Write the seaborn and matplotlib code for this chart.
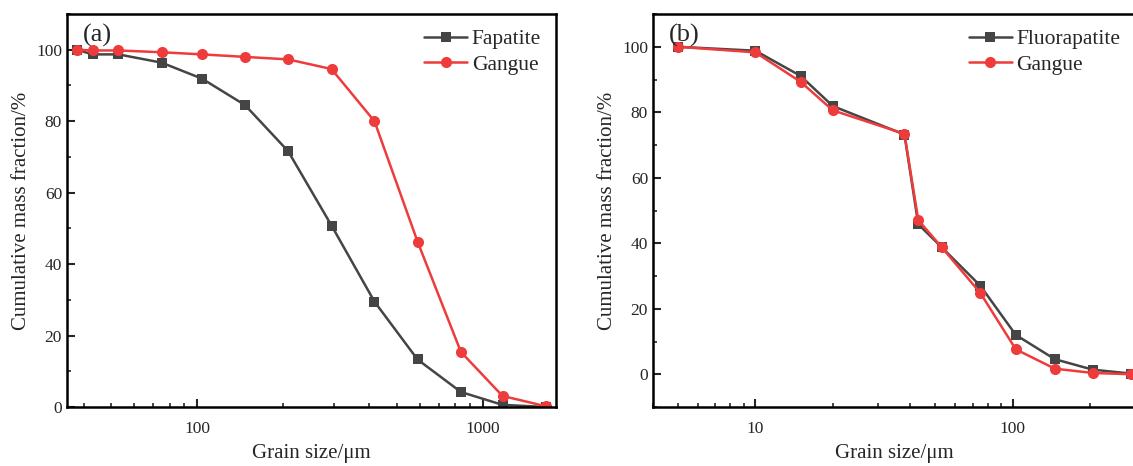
import pandas as pd
import seaborn as sns
import matplotlib.pyplot as plt
from matplotlib.ticker import FixedLocator, FixedFormatter, LogLocator, NullFormatter, MultipleLocator

# panel (a) data
size_a = [38, 43, 53, 75, 104, 147, 208, 295, 417, 590, 837, 1170, 1660]
fapatite = [100, 98.7, 98.7, 96.4, 91.9, 84.5, 71.6, 50.8, 29.5, 13.3, 4.2, 0.6, 0]
gangue_a = [100, 99.8, 99.8, 99.3, 98.7, 98.0, 97.3, 94.6, 80.0, 46.3, 15.4, 3.1, 0.2]

# panel (b) data
size_b = [5, 10, 15, 20, 38, 43, 53, 75, 103, 146, 205, 290]
fluorapatite = [100, 98.8, 91.1, 81.9, 73.2, 45.8, 38.8, 27.0, 12.0, 4.6, 1.4, 0.2]
gangue_b = [100, 98.3, 89.3, 80.6, 73.4, 47.1, 38.8, 24.8, 7.6, 1.7, 0.4, 0.0]

grey = '#454545'
red = '#ee3b3b'

sns.set_style("ticks")
plt.rcParams['font.family'] = ['Liberation Serif', 'DejaVu Serif']

fig = plt.figure(figsize=(11.33, 4.66), dpi=100)
ax_a = fig.add_axes([0.0591, 0.1266, 0.4316, 0.8433])
ax_b = fig.add_axes([0.5763, 0.1266, 0.4257, 0.8433])

panels = [
    (ax_a, size_a, fapatite, gangue_a, 'Fapatite', '(a)', (35, 1800), (0, 110), [100, 1000]),
    (ax_b, size_b, fluorapatite, gangue_b, 'Fluorapatite', '(b)', (4, 300), (-10, 110), [10, 100]),
]

for ax, sizes, mineral, gangue, name, tag, xlim, ylim, xt in panels:
    df1 = pd.DataFrame({'size': sizes, 'frac': mineral})
    df2 = pd.DataFrame({'size': sizes, 'frac': gangue})
    sns.lineplot(data=df1, x='size', y='frac', ax=ax, color=grey, marker='s',
                 markersize=7, markeredgewidth=0, linewidth=1.8, label=name)
    sns.lineplot(data=df2, x='size', y='frac', ax=ax, color=red, marker='o',
                 markersize=8, markeredgewidth=0, linewidth=1.8, label='Gangue')
    ax.set_xscale('log')
    ax.set_xlim(*xlim)
    ax.set_ylim(*ylim)
    ax.xaxis.set_major_locator(FixedLocator(xt))
    ax.xaxis.set_major_formatter(FixedFormatter([str(v) for v in xt]))
    ax.xaxis.set_minor_locator(LogLocator(base=10, subs=range(2, 10)))
    ax.xaxis.set_minor_formatter(NullFormatter())
    ax.yaxis.set_major_locator(MultipleLocator(20))
    ax.yaxis.set_minor_locator(MultipleLocator(10))
    ax.tick_params(which='major', direction='in', length=6, width=1.5, labelsize=12.5)
    ax.tick_params(axis='x', which='major', pad=10)
    ax.tick_params(which='minor', direction='in', length=3, width=1.2)
    for sp in ax.spines.values():
        sp.set_linewidth(1.8)
        sp.set_color('black')
    ax.set_xlabel('Grain size/μm', fontsize=15, labelpad=5)
    ax.set_ylabel('Cumulative mass fraction/%', fontsize=15, labelpad=4)
    ax.text(0.033, 0.975, tag, transform=ax.transAxes, fontsize=19, va='top', ha='left')
    ax.legend(loc='upper right', frameon=False, fontsize=15.5, handlelength=2.0,
              handletextpad=0.2, labelspacing=0.25, borderaxespad=0.3)

fig.savefig('out.png', dpi=100)
